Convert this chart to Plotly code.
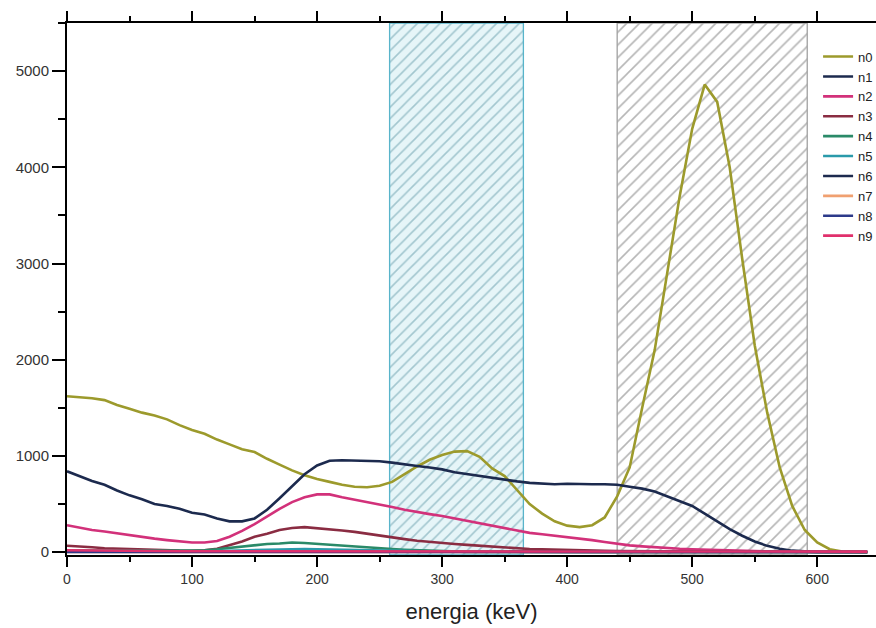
import plotly.graph_objects as go

energy = list(range(0, 650, 10))

n0 = [1620, 1610, 1600, 1580, 1530, 1490, 1450, 1420, 1380, 1320,
      1270, 1230, 1170, 1120, 1070, 1040, 970, 910, 850, 800,
      760, 730, 700, 680, 675, 690, 730, 810, 890, 960,
      1010, 1045, 1050, 990, 870, 790, 640, 500, 400, 320,
      275, 260, 280, 360, 580, 880, 1500, 2100, 2900, 3700,
      4400, 4860, 4680, 4000, 3050, 2150, 1450, 880, 480, 230,
      100, 30, 5, 0, 0]
n1 = [840, 790, 740, 700, 640, 590, 550, 500, 480, 450,
      410, 390, 350, 320, 320, 350, 440, 560, 680, 810,
      900, 950, 955, 950, 950, 945, 930, 910, 895, 880,
      860, 830, 810, 790, 770, 750, 735, 720, 710, 705,
      710, 705, 705, 705, 700, 680, 660, 630, 580, 530,
      480, 400, 320, 240, 170, 110, 65, 35, 15, 5,
      0, 0, 0, 0, 0]
n2 = [280, 255, 230, 215, 195, 180, 160, 140, 125, 110,
      100, 100, 115, 160, 220, 290, 370, 450, 520, 570,
      600, 600, 570, 545, 520, 500, 470, 440, 415, 395,
      375, 350, 320, 295, 270, 245, 220, 200, 185, 170,
      155, 145, 125, 105, 85, 70, 60, 50, 40, 35,
      30, 25, 20, 15, 12, 10, 8, 6, 5, 4,
      3, 2, 2, 1, 1]
n3 = [66, 60, 50, 40, 35, 30, 25, 20, 18, 15,
      14, 20, 35, 70, 110, 160, 190, 230, 250, 260,
      250, 235, 225, 210, 190, 170, 150, 135, 118, 105,
      95, 85, 75, 65, 55, 45, 38, 32, 28, 24,
      20, 18, 15, 13, 12, 10, 9, 8, 7, 6,
      5, 5, 4, 4, 3, 3, 2, 2, 2, 1,
      1, 1, 1, 1, 1]
n4 = [15, 15, 15, 15, 15, 15, 15, 15, 15, 15,
      15, 20, 30, 45, 60, 75, 85, 90, 100, 95,
      85, 75, 65, 55, 50, 40, 32, 25, 20, 12,
      6, 3, 3, 3, 3, 3, 3, 3, 3, 3,
      2, 2, 2, 2, 2, 2, 2, 2, 2, 2,
      1, 1, 1, 1, 1, 1, 1, 1, 1, 1,
      1, 1, 1, 1, 1]
n5 = [5, 5, 5, 5, 5, 5, 5, 5, 5, 5,
      5, 8, 10, 14, 18, 22, 28, 32, 35, 33,
      30, 27, 24, 20, 17, 15, 12, 10, 8, 6,
      5, 4, 3, 3, 3, 2, 2, 2, 2, 2,
      2, 2, 2, 2, 2, 2, 2, 2, 2, 2,
      1, 1, 1, 1, 1, 1, 1, 1, 1, 1,
      1, 1, 1, 1, 1]
n6 = [8, 8, 7, 7, 6, 6, 6, 5, 5, 5,
      5, 5, 6, 7, 8, 9, 10, 10, 10, 10,
      9, 9, 8, 8, 7, 7, 6, 6, 5, 5,
      5, 4, 4, 4, 4, 3, 3, 3, 3, 3,
      3, 3, 3, 2, 2, 2, 2, 2, 2, 2,
      2, 2, 2, 1, 1, 1, 1, 1, 1, 1,
      1, 1, 1, 1, 1]
n7 = [3, 3, 3, 3, 3, 3, 3, 3, 3, 3,
      3, 3, 3, 4, 4, 5, 5, 5, 5, 5,
      5, 5, 4, 4, 4, 4, 3, 3, 3, 3,
      3, 3, 3, 2, 2, 2, 2, 2, 2, 2,
      2, 2, 2, 2, 2, 2, 2, 2, 2, 2,
      1, 1, 1, 1, 1, 1, 1, 1, 1, 1,
      1, 1, 1, 1, 1]
n8 = [2, 2, 2, 2, 2, 2, 2, 2, 2, 2,
      2, 2, 2, 2, 3, 3, 3, 3, 3, 3,
      3, 3, 3, 3, 3, 2, 2, 2, 2, 2,
      2, 2, 2, 2, 2, 2, 2, 2, 2, 2,
      1, 1, 1, 1, 1, 1, 1, 1, 1, 1,
      1, 1, 1, 1, 1, 1, 1, 1, 1, 1,
      1, 1, 1, 1, 1]
n9 = [20, 18, 16, 14, 12, 11, 10, 10, 9, 9,
      9, 9, 9, 9, 9, 9, 9, 9, 9, 9,
      9, 8, 8, 8, 8, 8, 8, 8, 8, 8,
      7, 7, 7, 7, 7, 7, 7, 6, 6, 6,
      6, 6, 6, 6, 6, 6, 5, 5, 5, 5,
      5, 5, 5, 5, 5, 5, 5, 5, 5, 5,
      5, 5, 5, 5, 5]

series_names = ["n0", "n1", "n2", "n3", "n4", "n5", "n6", "n7", "n8", "n9"]
series_values = [n0, n1, n2, n3, n4, n5, n6, n7, n8, n9]
series_colors = ["#9c9a2c", "#1c2a4e", "#d2317a", "#8a2c42", "#2a8a68",
                 "#2a9aaa", "#1c2a4e", "#f0a070", "#2c3a8a", "#e0306c"]

# shaded windows (keV)
window1 = [258, 365]
window2 = [440, 592]
y_lo, y_hi = -30, 5500

fig = go.Figure()

def window_trace(x0, x1, fg, bg, line_color, size, solidity):
    return go.Scatter(
        x=[x0, x1, x1, x0, x0], y=[y_lo, y_lo, y_hi, y_hi, y_lo],
        mode="lines", fill="toself",
        fillpattern=dict(shape="/", size=size, solidity=solidity,
                         fgcolor=fg, bgcolor=bg),
        line=dict(color=line_color, width=1.3),
        showlegend=False, hoverinfo="skip")

fig.add_trace(window_trace(window1[0], window1[1], "#5f98a6", "#e6f5f8", "#58b4ca", 8, 0.2))
fig.add_trace(window_trace(window2[0], window2[1], "#6e6e6e", "#ffffff", "#a0a0a0", 9, 0.18))

for name, vals, col in zip(series_names, series_values, series_colors):
    fig.add_trace(go.Scatter(x=energy, y=vals, mode="lines", name=name,
                             line=dict(color=col, width=2.6)))

font = "Liberation Sans, Arial, sans-serif"
fig.update_layout(
    width=876, height=628,
    margin=dict(l=67, r=0, t=23, b=73, autoexpand=False),
    paper_bgcolor="white", plot_bgcolor="white",
    font=dict(family=font, size=14, color="#333"),
    showlegend=True,
    legend=dict(x=0.9284, y=0.965, xanchor="left", yanchor="top",
                bgcolor="rgba(255,255,255,0)", borderwidth=0,
                font=dict(family=font, size=13, color="#222"),
                tracegroupgap=0),
    xaxis=dict(range=[0, 647], showgrid=False, zeroline=False,
               showline=True, linecolor="black", linewidth=1.5, mirror="ticks",
               ticks="outside", ticklen=10, tickwidth=1.5, tickcolor="black",
               dtick=100, tick0=0,
               minor=dict(ticks="outside", ticklen=5, dtick=50, tickcolor="black", tickwidth=1.5),
               title=dict(text="energia (keV)", font=dict(family=font, size=22, color="#222"),
                          standoff=18)),
    yaxis=dict(range=[y_lo, y_hi], showgrid=False, zeroline=False,
               showline=True, linecolor="black", linewidth=2,
               ticks="outside", ticklen=13, tickwidth=1.5, tickcolor="black",
               dtick=1000, tick0=0, tickfont=dict(size=15),
               minor=dict(ticks="outside", ticklen=7, dtick=500, tickcolor="black", tickwidth=1.5)),
    shapes=[dict(type="line", xref="paper", yref="paper", x0=0, x1=0, y0=1, y1=1.022,
                 line=dict(color="black", width=2))],
)

fig.write_html("out.html")
